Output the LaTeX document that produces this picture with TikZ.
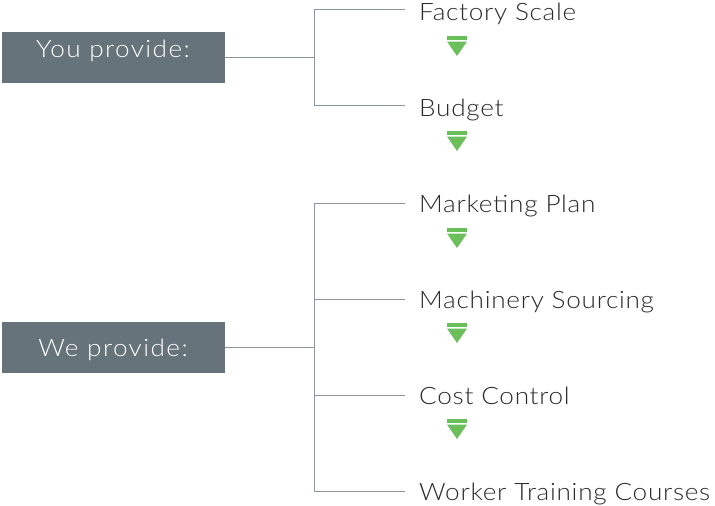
\documentclass[tikz,border=0pt]{standalone}
\usepackage{fontspec}
\setmainfont{Lato Light}[FakeStretch=1.09,LetterSpace=3]
\definecolor{boxgray}{HTML}{66737B}
\definecolor{linegray}{HTML}{8A959C}
\definecolor{arrgreen}{HTML}{6ABF5A}
\definecolor{txt}{HTML}{2A2A2A}
\begin{document}
\begin{tikzpicture}[x=1pt,y=-1pt,
  provbox/.style={fill=boxgray,inner sep=0pt,minimum width=223pt,minimum height=51pt},
  boxtext/.style={anchor=base,inner sep=0pt,text=white,font=\fontsize{24}{28}\selectfont\addfontfeature{LetterSpace=6}},
  item/.style={anchor=base west,inner sep=0pt,text=txt,font=\fontsize{24}{28}\selectfont},
  conn/.style={draw=linegray,line width=1pt},
]
\useasboundingbox (0,0) rectangle (715,506);
\node[provbox] (you) at (113.5,57) {};
\node[provbox] (we) at (113,347) {};
\node[boxtext] (yout) at (113,57) {You provide:};
\node[boxtext] (wet) at (113,356) {We provide:};
\node[item] (fs) at (419,20.5) {Factory Scale};
\node[item] (bu) at (419,116.5) {Budget};
\node[item] (mp) at (419,212.5) {Marketing Plan};
\node[item] (ms) at (419,308.5) {Machinery Sourcing};
\node[item] (cc) at (419,404.5) {Cost Control};
\node[item] (wt) at (419,500.5) {Worker Training Courses};
\coordinate (b1) at (314,57);
\coordinate (b2) at (314,347);
\draw[conn] (you.east) -- (b1);
\draw[conn] (we.east) -- (b2);
\draw[conn] (405,9.5) -| (314,105) -- (405,105);
\draw[conn] (405,203) -| (314,491) -- (405,491);
\draw[conn] (314,299) -- (405,299);
\draw[conn] (314,395) -- (405,395);
\foreach \y in {36,131,228,323,419}{
  \fill[arrgreen] (447,\y) rectangle (467,\y+3.5);
  \fill[arrgreen] (447,\y+5.5) -- (467,\y+5.5) -- (457,\y+20) -- cycle;
}
\end{tikzpicture}
\end{document}
